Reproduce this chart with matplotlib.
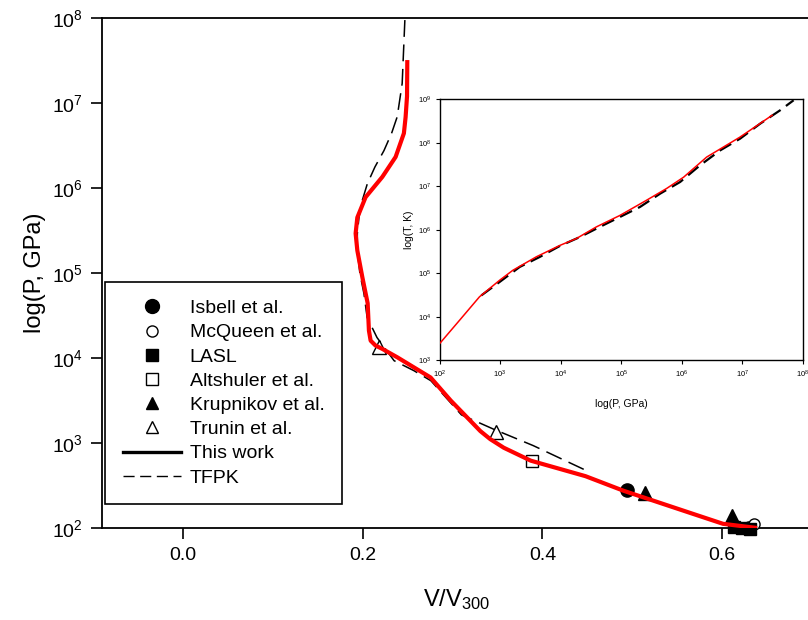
import matplotlib
matplotlib.use("Agg")
import matplotlib.pyplot as plt
from matplotlib.lines import Line2D
from matplotlib.ticker import LogFormatterSciNotation, NullLocator

plt.rcParams['font.family'] = ['Liberation Sans', 'DejaVu Sans']
plt.rcParams['mathtext.fontset'] = 'custom'
plt.rcParams['mathtext.rm'] = 'Liberation Sans'
plt.rcParams['mathtext.it'] = 'Liberation Sans:italic'
plt.rcParams['mathtext.default'] = 'regular'

# ---- Hugoniot: this work (V/V300, P in GPa) ----
work_v = [0.639, 0.601, 0.564, 0.490, 0.448, 0.387, 0.357, 0.342, 0.331, 0.320,
          0.298, 0.2756, 0.2385, 0.2219, 0.2144, 0.2089, 0.207, 0.2056, 0.1997,
          0.1941, 0.1922, 0.1941, 0.2033, 0.2219, 0.2367, 0.2459, 0.2478, 0.2494,
          0.2497]
work_p = [1.0e2, 1.12e2, 1.51e2, 2.75e2, 4.07e2, 6.2e2, 8.8e2, 1.11e3, 1.38e3, 1.82e3,
          3.16e3, 5.9e3, 1.02e4, 1.28e4, 1.4e4, 1.6e4, 2.1e4, 4.4e4, 8.9e4,
          1.84e5, 2.92e5, 4.5e5, 7.8e5, 1.35e6, 2.32e6, 4.4e6, 6.8e6, 1.2e7,
          3.2e7]

# ---- Hugoniot: TFPK ----
tfpk_v = [0.446, 0.390, 0.346, 0.310, 0.276, 0.257, 0.235, 0.216, 0.205, 0.2015,
          0.197, 0.194, 0.1941, 0.196, 0.1997, 0.2052, 0.2137, 0.2237, 0.2322,
          0.2385, 0.244, 0.247, 0.2475]
tfpk_p = [4.9e2, 9.3e2, 1.45e3, 2.14e3, 5.4e3, 7.1e3, 9.3e3, 1.74e4, 3.0e4, 5.7e4,
          9.8e4, 1.86e5, 2.9e5, 4.6e5, 7.2e5, 1.12e6, 1.77e6, 2.75e6, 4.4e6,
          6.9e6, 1.7e7, 9.5e7, 1.6e8]

# ---- Experimental shock data ----
isbell_v = [0.494, 0.630]
isbell_p = [2.8e2, 1.0e2]
mcqueen_v = [0.635]
mcqueen_p = [1.12e2]
lasl_v = [0.613, 0.622, 0.631]
lasl_p = [1.03e2, 1.0e2, 0.98e2]
altshuler_v = [0.388]
altshuler_p = [6.2e2]
krupnikov_v = [0.514, 0.611]
krupnikov_p = [2.57e2, 1.38e2]
trunin_v = [0.218, 0.348]
trunin_p = [1.33e4, 1.33e3]

# ---- Inset: temperature along the Hugoniot ----
inset_work_p = [1.0e2, 2.14e2, 4.57e2, 9.8e2, 1.62e3, 3.98e3, 9.8e3, 1.82e4, 3.9e4,
                9.5e4, 2.63e5, 5.6e5, 1.07e6, 2.57e6, 9.1e6, 3.1e7]
inset_work_t = [2.4e3, 8.3e3, 2.88e4, 6.9e4, 1.17e5, 2.4e5, 4.4e5, 6.3e5, 1.17e6,
                2.14e6, 4.8e6, 8.9e6, 1.62e7, 4.7e7, 1.35e8, 4.3e8]
inset_tfpk_p = [4.9e2, 9.8e2, 2.11e3, 4.5e3, 9.7e3, 2.07e4, 4.4e4, 9.5e4, 2.04e5,
                4.4e5, 9.4e5, 2.0e6, 4.3e6, 9.2e6, 1.97e7, 4.2e7, 7.0e7]
inset_tfpk_t = [3.1e4, 6.3e4, 1.4e5, 2.37e5, 4.25e5, 6.8e5, 1.16e6, 1.97e6, 3.35e6,
                6.8e6, 1.26e7, 3.04e7, 6.7e7, 1.25e8, 2.76e8, 5.6e8, 9.5e8]

# tick positions
main_xticks = [0.0, 0.2, 0.4, 0.6]
main_xticklabels = ['0.0', '0.2', '0.4', '0.6']
main_yticks = [1e2, 1e3, 1e4, 1e5, 1e6, 1e7, 1e8]
inset_xticks = [1e2, 1e3, 1e4, 1e5, 1e6, 1e7, 1e8]
inset_yticks = [1e3, 1e4, 1e5, 1e6, 1e7, 1e8, 1e9]

W, H = 808, 620
fig = plt.figure(figsize=(W / 100, H / 100), dpi=100)

# main axes (right edge runs off the canvas)
ax = fig.add_axes([102 / W, 1 - 528 / H, (812 - 102) / W, (528 - 18) / H])
ax.set_yscale('log')
ax.set_xlim(-0.09, 0.7)
ax.set_ylim(1e2, 1e8)
ax.set_xticks(main_xticks)
ax.set_xticklabels(main_xticklabels)
ax.set_yticks(main_yticks)
ax.yaxis.set_major_formatter(LogFormatterSciNotation())
ax.yaxis.set_minor_locator(NullLocator())
ax.tick_params(axis='both', direction='out', length=8, width=1.2, labelsize=14, pad=6)
ax.spines['right'].set_visible(False)
for s in ['left', 'bottom', 'top']:
    ax.spines[s].set_linewidth(1.3)

ax.plot(tfpk_v, tfpk_p, color='black', lw=1.1, dashes=(11, 5), zorder=2)

mk = dict(linestyle='none', markeredgecolor='black', markeredgewidth=1.0,
          zorder=3, clip_on=False)
ax.plot(isbell_v, isbell_p, marker='o', ms=9.5, markerfacecolor='black', **mk)
ax.plot(mcqueen_v, mcqueen_p, marker='o', ms=8, markerfacecolor='white', **mk)
ax.plot(lasl_v, lasl_p, marker='s', ms=8, markerfacecolor='black', **mk)
ax.plot(altshuler_v, altshuler_p, marker='s', ms=8, markerfacecolor='white', **mk)
ax.plot(krupnikov_v, krupnikov_p, marker='^', ms=9.5, markerfacecolor='black', **mk)
ax.plot(trunin_v, trunin_p, marker='^', ms=9.5, markerfacecolor='white', **mk)

ax.plot(work_v, work_p, color='red', lw=3.0, solid_capstyle='butt',
        solid_joinstyle='round', zorder=4)

ax.set_xlabel('V/V$_{300}$', fontsize=17, labelpad=16)
ax.set_ylabel('log(P, GPa)', fontsize=17, labelpad=4)

# legend
handles = [
    Line2D([], [], linestyle='none', marker='o', ms=10, markerfacecolor='black', markeredgecolor='black'),
    Line2D([], [], linestyle='none', marker='o', ms=8, markerfacecolor='white', markeredgecolor='black'),
    Line2D([], [], linestyle='none', marker='s', ms=8, markerfacecolor='black', markeredgecolor='black'),
    Line2D([], [], linestyle='none', marker='s', ms=8, markerfacecolor='white', markeredgecolor='black'),
    Line2D([], [], linestyle='none', marker='^', ms=9, markerfacecolor='black', markeredgecolor='black'),
    Line2D([], [], linestyle='none', marker='^', ms=9, markerfacecolor='white', markeredgecolor='black'),
    Line2D([], [], color='black', lw=2.4),
    Line2D([], [], color='black', lw=1.0, dashes=(8, 4)),
]
labels = ['Isbell et al.', 'McQueen et al.', 'LASL', 'Altshuler et al.',
          'Krupnikov et al.', 'Trunin et al.', 'This work', 'TFPK']
leg = fig.legend(handles, labels, loc='upper left',
                 bbox_to_anchor=(105 / W, 1 - 282 / H), bbox_transform=fig.transFigure,
                 fontsize=14, frameon=True, fancybox=False, edgecolor='black',
                 framealpha=1, handlelength=3.0, handletextpad=0.45,
                 labelspacing=0.34, borderpad=0.9, borderaxespad=0)
leg.get_frame().set_linewidth(1.2)

# inset axes
ins = fig.add_axes([439.5 / W, 1 - 360.3 / H, (803 - 439.5) / W, (360.3 - 99.3) / H])
ins.set_xscale('log')
ins.set_yscale('log')
ins.set_xlim(1e2, 1e8)
ins.set_ylim(1e3, 1e9)
ins.set_xticks(inset_xticks)
ins.set_yticks(inset_yticks)
ins.xaxis.set_major_formatter(LogFormatterSciNotation())
ins.yaxis.set_major_formatter(LogFormatterSciNotation())
ins.xaxis.set_minor_locator(NullLocator())
ins.yaxis.set_minor_locator(NullLocator())
ins.tick_params(axis='both', direction='out', length=3, width=0.8, labelsize=5.5, pad=3)
for s in ins.spines.values():
    s.set_linewidth(1.0)
ins.plot(inset_tfpk_p, inset_tfpk_t, color='black', lw=1.6, dashes=(6, 3), zorder=2)
ins.plot(inset_work_p, inset_work_t, color='red', lw=1.1, zorder=3)
ins.set_xlabel('log(P, GPa)', fontsize=7.5, labelpad=14)
ins.set_ylabel('log(T, K)', fontsize=7.5, labelpad=3)

fig.savefig('out.png', dpi=100)
